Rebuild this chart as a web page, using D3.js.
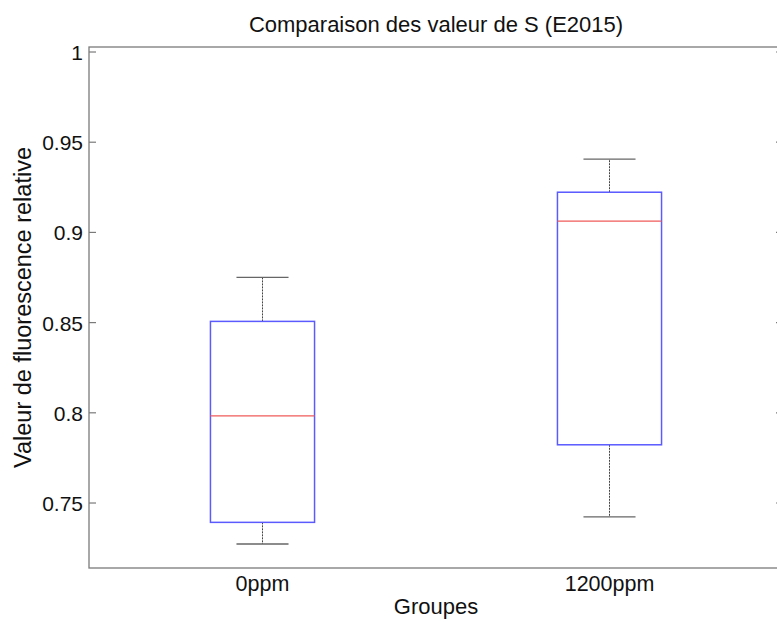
<!DOCTYPE html>
<html><head><meta charset="utf-8">
<script src="https://cdn.jsdelivr.net/npm/d3@7"></script>
<style>body{margin:0;background:#fff}svg{display:block}text{font-family:"Liberation Sans",Arial,sans-serif;fill:#111}</style>
</head><body>
<svg id="c" width="777" height="622"></svg>
<script>
const groups = ["0ppm", "1200ppm"];
const whiskerLow  = [0.727, 0.742];
const q1          = [0.739, 0.782];
const median      = [0.798, 0.906];
const q3          = [0.8504, 0.922];
const whiskerHigh = [0.8748, 0.9404];
const yTicks = [0.75, 0.8, 0.85, 0.9, 0.95, 1];
const yLimits = [0.7137, 1.0025];
const xLimits = [0.5, 2.5];
const title = "Comparaison des valeur de S (E2015)";
const xLabel = "Groupes";
const yLabel = "Valeur de fluorescence relative";

const svg = d3.select("#c");
const L = 89, R = 783, T = 47, B = 568;
const x = d3.scaleLinear().domain(xLimits).range([L, R]);
const y = d3.scaleLinear().domain(yLimits).range([B, T]);
const boxHalf = 0.15, capHalf = 0.075;
const axisCol = "#7a7a7a";

// axes box
svg.append("rect").attr("x", L).attr("y", T).attr("width", R - L).attr("height", B - T)
  .attr("fill", "none").attr("stroke", axisCol).attr("stroke-width", 1.3);

// left axis ticks and labels
const yAxis = d3.axisLeft(y).tickValues(yTicks).tickSizeInner(-7).tickSizeOuter(0)
  .tickPadding(6).tickFormat(d => String(d));
const ga = svg.append("g").attr("transform", `translate(${L},0)`).call(yAxis);
ga.select(".domain").remove();
ga.selectAll(".tick line").attr("stroke", axisCol).attr("stroke-width", 1.2);
ga.selectAll(".tick text").attr("font-size", 21).attr("fill", "#111")
  .attr("font-family", "Liberation Sans, Arial, sans-serif")
  .attr("dy", null).attr("y", 8);
// right axis ticks
const gr = svg.append("g").attr("transform", `translate(${R},0)`)
  .call(d3.axisRight(y).tickValues(yTicks).tickSizeInner(-7).tickSizeOuter(0).tickFormat(""));
gr.select(".domain").remove();
gr.selectAll(".tick line").attr("stroke", axisCol).attr("stroke-width", 1.2);

// x tick labels
svg.append("g").selectAll("text").data(groups).join("text")
  .attr("text-anchor", "middle").attr("font-size", 21.5)
  .attr("x", (d, i) => x(i + 1)).attr("y", 591)
  .text(d => d);

// boxes
const bx = svg.append("g");
groups.forEach((g, i) => {
  const c = i + 1;
  bx.append("line").attr("x1", x(c)).attr("x2", x(c)).attr("y1", y(q3[i])).attr("y2", y(whiskerHigh[i]))
    .attr("stroke", "#444").attr("stroke-width", 1).attr("stroke-dasharray", "2,1");
  bx.append("line").attr("x1", x(c)).attr("x2", x(c)).attr("y1", y(q1[i])).attr("y2", y(whiskerLow[i]))
    .attr("stroke", "#444").attr("stroke-width", 1).attr("stroke-dasharray", "2,1");
  [whiskerHigh[i], whiskerLow[i]].forEach(v => {
    bx.append("line").attr("x1", x(c - capHalf)).attr("x2", x(c + capHalf)).attr("y1", y(v)).attr("y2", y(v))
      .attr("stroke", "#666").attr("stroke-width", 1.3);
  });
  bx.append("rect").attr("x", x(c - boxHalf)).attr("width", x(c + boxHalf) - x(c - boxHalf))
    .attr("y", y(q3[i])).attr("height", y(q1[i]) - y(q3[i]))
    .attr("fill", "none").attr("stroke", "#5a5aff").attr("stroke-width", 1.5);
  bx.append("line").attr("x1", x(c - boxHalf)).attr("x2", x(c + boxHalf)).attr("y1", y(median[i])).attr("y2", y(median[i]))
    .attr("stroke", "#f05a5a").attr("stroke-width", 1.3);
});

// title
svg.append("text").attr("text-anchor", "middle").attr("font-size", 22)
  .attr("x", (L + R) / 2).attr("y", 32).text(title);
// x label
svg.append("text").attr("text-anchor", "middle").attr("font-size", 22)
  .attr("x", (L + R) / 2).attr("y", 614).text(xLabel);
// y label
svg.append("text").attr("text-anchor", "middle").attr("font-size", 23.5)
  .attr("transform", `translate(31,${(T + B) / 2}) rotate(-90)`).text(yLabel);
</script>
</body></html>
